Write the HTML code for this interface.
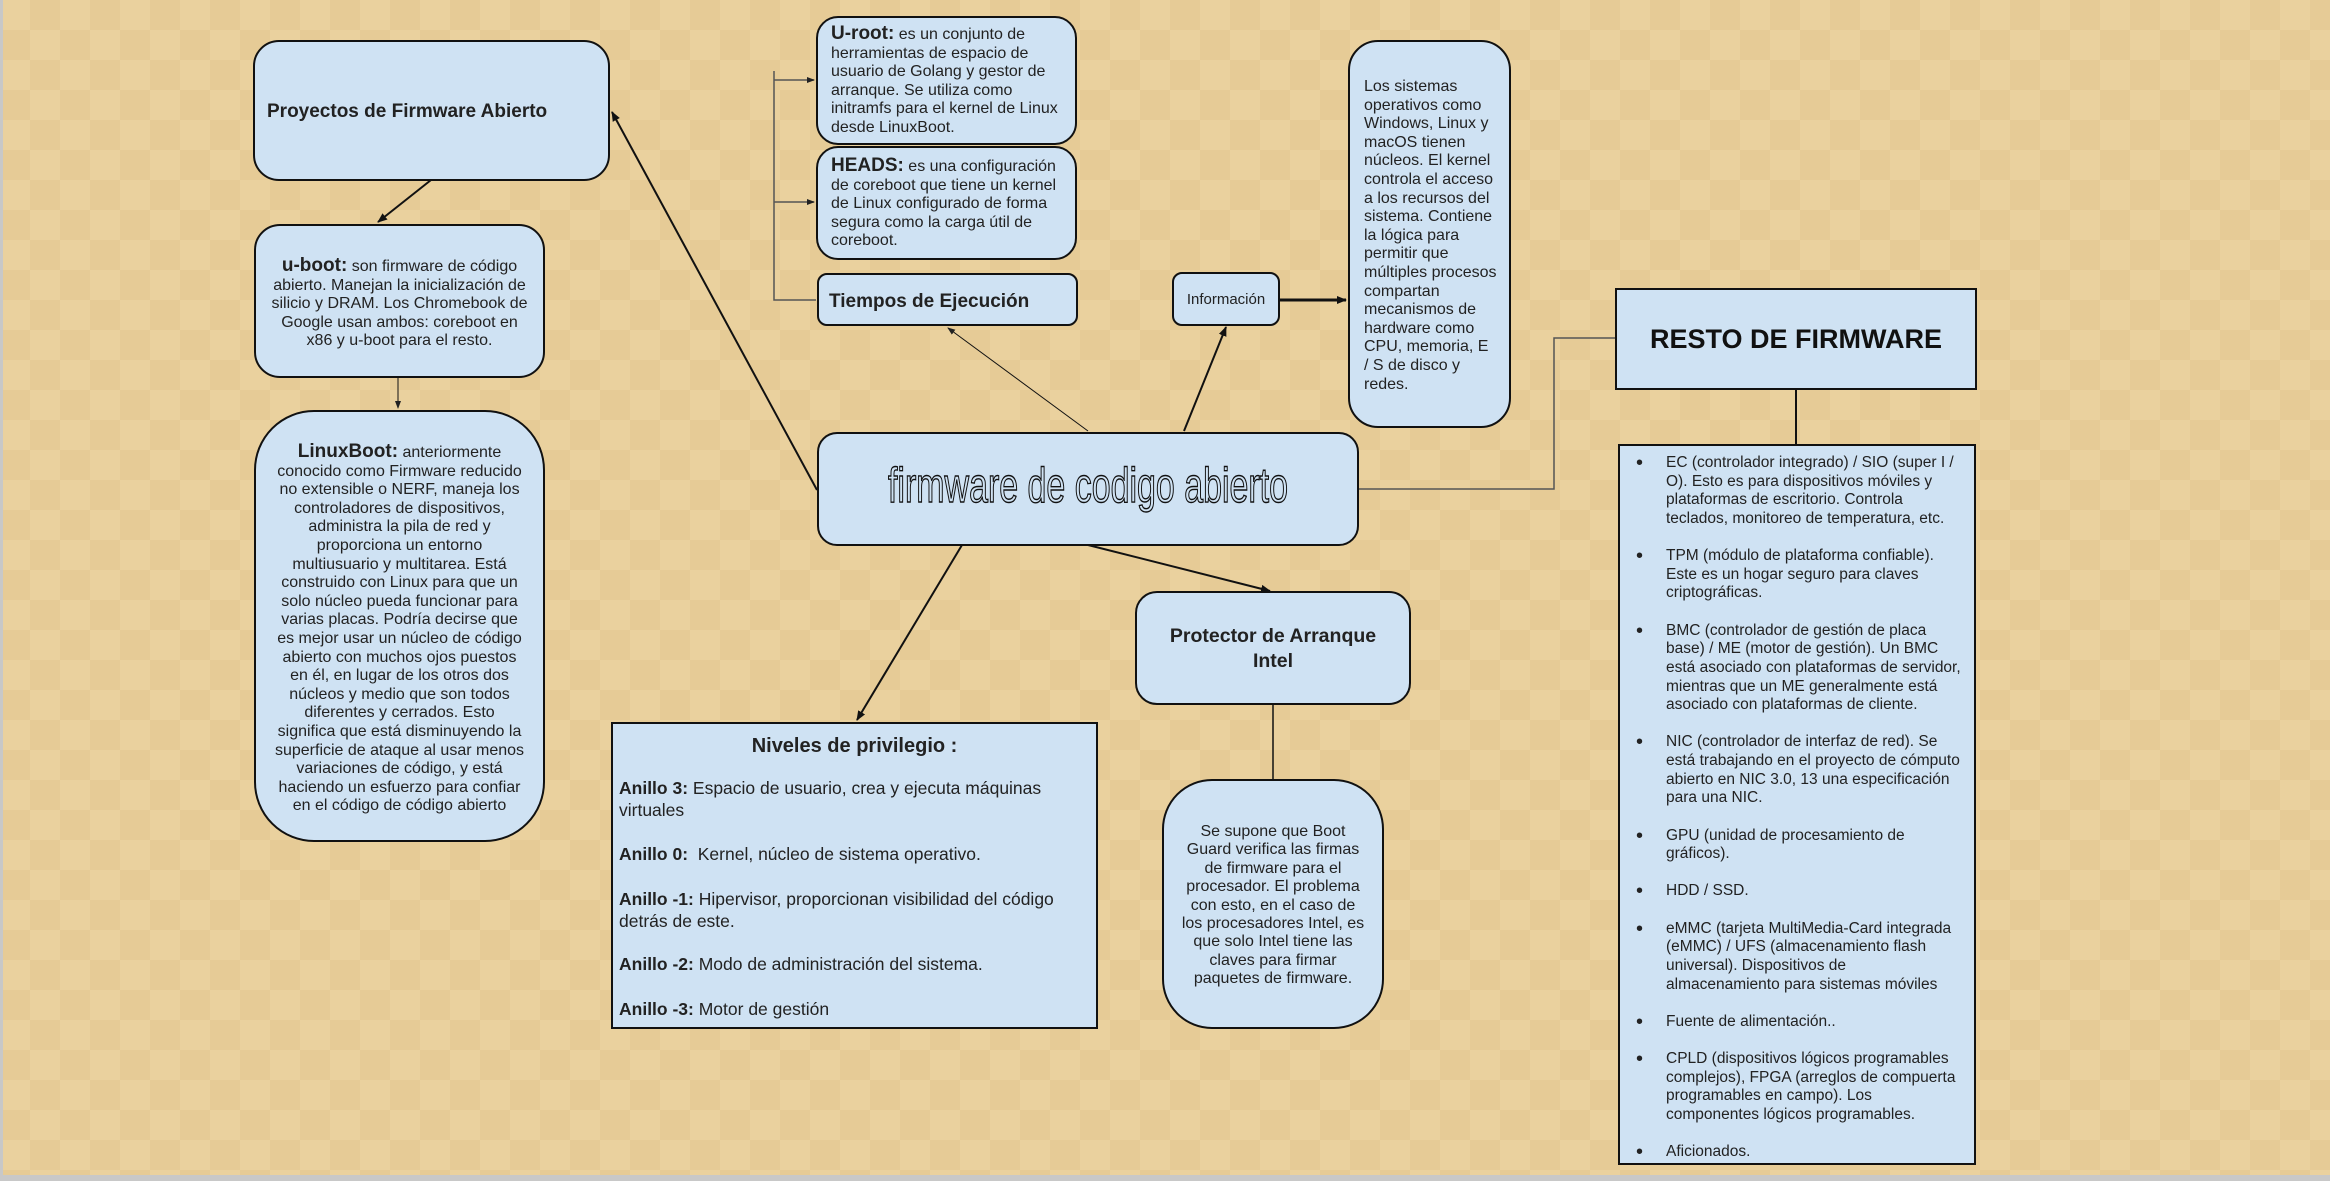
<!DOCTYPE html>
<html><head><meta charset="utf-8">
<style>
html,body{margin:0;padding:0;}
body{width:2330px;height:1181px;position:relative;overflow:hidden;font-family:"Liberation Sans",Arial,sans-serif;color:#222;
background-color:#e8ce9a;
background-image:conic-gradient(#e6cb96 25%,#ead19e 0 50%,#e6cb96 0 75%,#ead19e 0);
background-size:60px 60px;}
.b{position:absolute;background:#cfe2f3;border:2px solid #111;box-sizing:border-box;}
.t{position:absolute;white-space:nowrap;}
.c{text-align:center;}
.s{font-size:16px;line-height:18.6px;}
.bl{position:relative;padding-left:30px}
.bl span{position:absolute;left:0;font-size:20px;line-height:18px}
</style></head><body>
<div style="position:absolute;left:0;top:0;width:3px;height:1181px;background:#c8c8c8"></div>
<div style="position:absolute;left:0;top:1175px;width:2330px;height:6px;background:#c8c8c8"></div>

<svg style="position:absolute;left:0;top:0" width="2330" height="1181">
<defs>
<marker id="a" markerWidth="10" markerHeight="10" refX="9" refY="5" orient="auto" markerUnits="userSpaceOnUse"><path d="M0,1 L10,5 L0,9 z" fill="#111"/></marker>
<marker id="s" markerWidth="8" markerHeight="8" refX="7" refY="4" orient="auto" markerUnits="userSpaceOnUse"><path d="M0,1 L8,4 L0,7 z" fill="#222"/></marker>
</defs>
<g stroke="#111" fill="none">
<line x1="431" y1="180" x2="378" y2="222" stroke-width="2" marker-end="url(#a)"/>
<line x1="398" y1="377" x2="398" y2="408" stroke-width="1" marker-end="url(#s)"/>
<line x1="817" y1="490" x2="612" y2="112" stroke-width="2" marker-end="url(#a)"/>
<line x1="1088" y1="431" x2="948" y2="328" stroke-width="1" marker-end="url(#s)"/>
<line x1="1184" y1="431" x2="1226" y2="327" stroke-width="2" marker-end="url(#a)"/>
<line x1="1279" y1="300" x2="1346" y2="300" stroke-width="3" marker-end="url(#a)"/>
<line x1="962" y1="545" x2="857" y2="720" stroke-width="2" marker-end="url(#a)"/>
<line x1="1088" y1="545" x2="1270" y2="591" stroke-width="2" marker-end="url(#a)"/>
<line x1="1273" y1="704" x2="1273" y2="779" stroke-width="1.5"/>
<line x1="1796" y1="389" x2="1796" y2="444" stroke-width="2"/>
</g>
<g stroke="#555" fill="none" stroke-width="1.5">
<polyline points="1357,489 1554,489 1554,338 1615,338"/>
<polyline points="774,71 774,300 816,300"/>
<line x1="774" y1="80" x2="814" y2="80" marker-end="url(#s)"/>
<line x1="774" y1="202" x2="814" y2="202" marker-end="url(#s)"/>
</g>
</svg>

<div class="b" style="left:253px;top:40px;width:357px;height:141px;border-radius:26px"></div>
<div class="t" style="left:267px;top:101px;font-size:19px;font-weight:bold">Proyectos de Firmware Abierto</div>

<div class="b" style="left:254px;top:224px;width:291px;height:154px;border-radius:26px"></div>
<div class="t c s" style="left:254px;top:257px;width:291px"><b style="font-size:19px">u-boot:</b> son firmware de código<br>abierto. Manejan la inicialización de<br>silicio y DRAM. Los Chromebook de<br>Google usan ambos: coreboot en<br>x86 y u-boot para el resto.</div>

<div class="b" style="left:254px;top:410px;width:291px;height:432px;border-radius:60px"></div>
<div class="t c s" style="left:254px;top:443px;width:291px"><b style="font-size:19px">LinuxBoot:</b> anteriormente<br>conocido como Firmware reducido<br>no extensible o NERF, maneja los<br>controladores de dispositivos,<br>administra la pila de red y<br>proporciona un entorno<br>multiusuario y multitarea. Está<br>construido con Linux para que un<br>solo núcleo pueda funcionar para<br>varias placas. Podría decirse que<br>es mejor usar un núcleo de código<br>abierto con muchos ojos puestos<br>en él, en lugar de los otros dos<br>núcleos y medio que son todos<br>diferentes y cerrados. Esto<br>significa que está disminuyendo la<br>superficie de ataque al usar menos<br>variaciones de código, y está<br>haciendo un esfuerzo para confiar<br>en el código de código abierto</div>

<div class="b" style="left:816px;top:16px;width:261px;height:129px;border-radius:22px"></div>
<div class="t s" style="left:831px;top:25px"><b style="font-size:19px">U-root:</b> es un conjunto de<br>herramientas de espacio de<br>usuario de Golang y gestor de<br>arranque. Se utiliza como<br>initramfs para el kernel de Linux<br>desde LinuxBoot.</div>

<div class="b" style="left:816px;top:146px;width:261px;height:114px;border-radius:22px"></div>
<div class="t s" style="left:831px;top:157px"><b style="font-size:19px">HEADS:</b> es una configuración<br>de coreboot que tiene un kernel<br>de Linux configurado de forma<br>segura como la carga útil de<br>coreboot.</div>

<div class="b" style="left:817px;top:273px;width:261px;height:53px;border-radius:10px"></div>
<div class="t" style="left:829px;top:291px;font-size:19px;font-weight:bold">Tiempos de Ejecución</div>

<div class="b" style="left:1172px;top:272px;width:108px;height:54px;border-radius:10px"></div>
<div class="t c" style="left:1172px;top:291px;width:108px;font-size:15px">Información</div>

<div class="b" style="left:1348px;top:40px;width:163px;height:388px;border-radius:30px"></div>
<div class="t s" style="left:1364px;top:78px">Los sistemas<br>operativos como<br>Windows, Linux y<br>macOS tienen<br>núcleos. El kernel<br>controla el acceso<br>a los recursos del<br>sistema. Contiene<br>la lógica para<br>permitir que<br>múltiples procesos<br>compartan<br>mecanismos de<br>hardware como<br>CPU, memoria, E<br>/ S de disco y<br>redes.</div>

<div class="b" style="left:817px;top:432px;width:542px;height:114px;border-radius:20px"></div>
<svg style="position:absolute;left:0;top:0" width="2330" height="1181">
<text x="888" y="502" font-family="Liberation Sans, Arial, sans-serif" font-size="49" textLength="400" lengthAdjust="spacingAndGlyphs" fill="#cfe2f3" stroke="#111" stroke-width="1.4">firmware de codigo abierto</text>
</svg>

<div class="b" style="left:1615px;top:288px;width:362px;height:102px"></div>
<div class="t c" style="left:1615px;top:324px;width:362px;font-size:27px;font-weight:bold;color:#111">RESTO DE FIRMWARE</div>

<div class="b" style="left:1618px;top:444px;width:358px;height:721px"></div>
<div class="t" style="left:1636px;top:454px;font-size:15.5px;line-height:18.62px">
<div class="bl"><span>•</span>EC (controlador integrado) / SIO (super I /<br>O). Esto es para dispositivos móviles y<br>plataformas de escritorio. Controla<br>teclados, monitoreo de temperatura, etc.<br><br></div>
<div class="bl"><span>•</span>TPM (módulo de plataforma confiable).<br>Este es un hogar seguro para claves<br>criptográficas.<br><br></div>
<div class="bl"><span>•</span>BMC (controlador de gestión de placa<br>base) / ME (motor de gestión). Un BMC<br>está asociado con plataformas de servidor,<br>mientras que un ME generalmente está<br>asociado con plataformas de cliente.<br><br></div>
<div class="bl"><span>•</span>NIC (controlador de interfaz de red). Se<br>está trabajando en el proyecto de cómputo<br>abierto en NIC 3.0, 13 una especificación<br>para una NIC.<br><br></div>
<div class="bl"><span>•</span>GPU (unidad de procesamiento de<br>gráficos).<br><br></div>
<div class="bl"><span>•</span>HDD / SSD.<br><br></div>
<div class="bl"><span>•</span>eMMC (tarjeta MultiMedia-Card integrada<br>(eMMC) / UFS (almacenamiento flash<br>universal). Dispositivos de<br>almacenamiento para sistemas móviles<br><br></div>
<div class="bl"><span>•</span>Fuente de alimentación..<br><br></div>
<div class="bl"><span>•</span>CPLD (dispositivos lógicos programables<br>complejos), FPGA (arreglos de compuerta<br>programables en campo). Los<br>componentes lógicos programables.<br><br></div>
<div class="bl"><span>•</span>Aficionados.</div>
</div>

<div class="b" style="left:611px;top:722px;width:487px;height:307px"></div>
<div class="t c" style="left:611px;top:735px;width:487px;font-size:20px;font-weight:bold">Niveles de privilegio :</div>
<div class="t" style="left:619px;top:777px;font-size:17.5px;line-height:22px"><b>Anillo 3:</b> Espacio de usuario, crea y ejecuta máquinas<br>virtuales</div>
<div class="t" style="left:619px;top:843px;font-size:17.5px;line-height:22px"><b>Anillo 0:</b>&nbsp; Kernel, núcleo de sistema operativo.</div>
<div class="t" style="left:619px;top:888px;font-size:17.5px;line-height:22px"><b>Anillo -1:</b> Hipervisor, proporcionan visibilidad del código<br>detrás de este.</div>
<div class="t" style="left:619px;top:953px;font-size:17.5px;line-height:22px"><b>Anillo -2:</b> Modo de administración del sistema.</div>
<div class="t" style="left:619px;top:998px;font-size:17.5px;line-height:22px"><b>Anillo -3:</b> Motor de gestión</div>

<div class="b" style="left:1135px;top:591px;width:276px;height:114px;border-radius:22px"></div>
<div class="t c" style="left:1135px;top:624px;width:276px;font-size:19.5px;font-weight:bold;line-height:25px">Protector de Arranque<br>Intel</div>

<div class="b" style="left:1162px;top:779px;width:222px;height:250px;border-radius:50px"></div>
<div class="t c s" style="left:1162px;top:823px;width:222px;line-height:18.4px">Se supone que Boot<br>Guard verifica las firmas<br>de firmware para el<br>procesador. El problema<br>con esto, en el caso de<br>los procesadores Intel, es<br>que solo Intel tiene las<br>claves para firmar<br>paquetes de firmware.</div>
</body></html>
